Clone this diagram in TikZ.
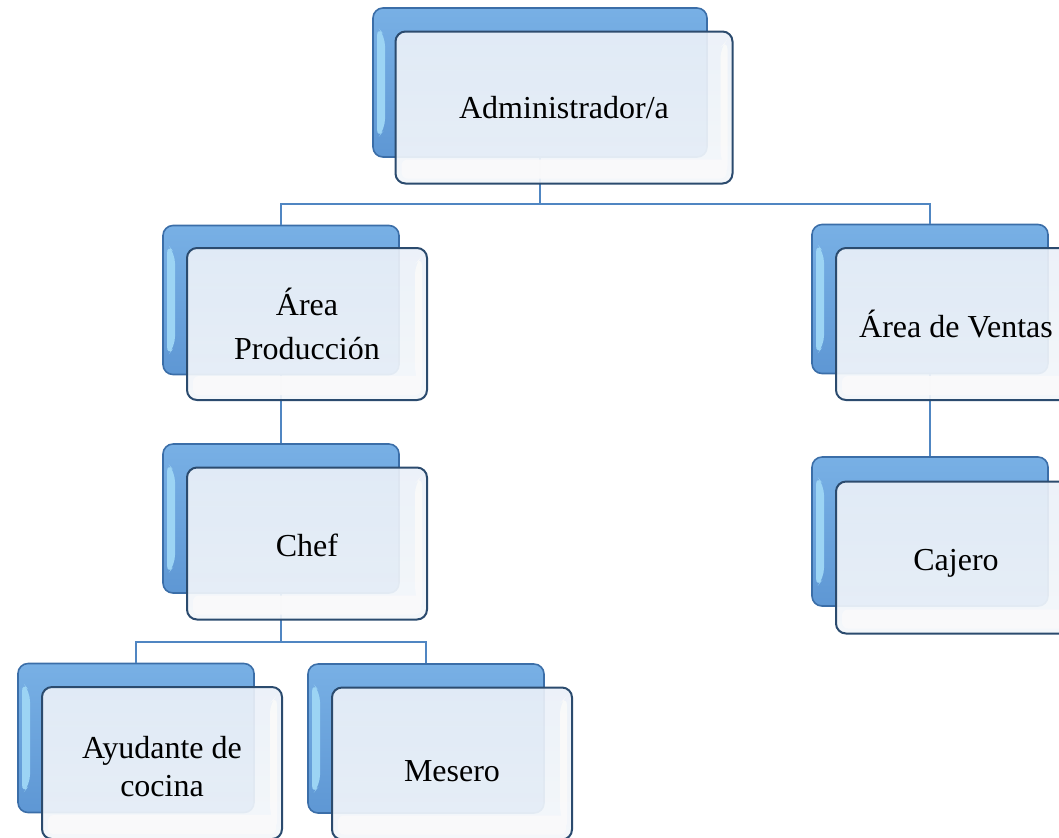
\documentclass[tikz,border=0pt]{standalone}
\usepackage{fontspec}
\setmainfont{Liberation Serif}
\usepackage{pgf,tikz}
\usetikzlibrary{arrows}

\definecolor{azulclaro}{HTML}{78B0E5}
\definecolor{azulmedio}{HTML}{5E97D4}
\definecolor{azulbrillo}{HTML}{9CD4F4}
\definecolor{bordeazul}{HTML}{3B6EA8}
\definecolor{bordeosc}{HTML}{2B4B6E}
\definecolor{frentearriba}{HTML}{EAF0F8}
\definecolor{frenteabajo}{HTML}{F3F6FA}
\definecolor{biselclaro}{HTML}{FAFAFA}
\definecolor{lineaazul}{HTML}{5086C2}

\newcommand{\bajar}[2]{\raisebox{-#1}[\height][\depth]{#2}}

\tikzset{
  fondo/.style={draw=bordeazul, line width=0.8pt, rounded corners=5pt,
    top color=azulclaro, bottom color=azulmedio,
    minimum width=118pt, minimum height=74.5pt,
    path picture={
      \fill[azulbrillo] ([shift={(2pt,-9pt)}]path picture bounding box.north west)
        -- ([shift={(6pt,-14pt)}]path picture bounding box.north west)
        -- ([shift={(6pt,14pt)}]path picture bounding box.south west)
        -- ([shift={(2pt,9pt)}]path picture bounding box.south west) -- cycle;
    }},
  fondoancho/.style={fondo, minimum width=167pt},
  frente/.style={draw=bordeosc, line width=1pt, rounded corners=5pt,
    top color=frentearriba, bottom color=frenteabajo, fill opacity=0.92,
    text opacity=1, minimum width=120pt, minimum height=76pt,
    align=center, font=\fontsize{16}{19}\selectfont,
    path picture={
      \fill[biselclaro, rounded corners=3pt] ([shift={(3pt,2.5pt)}]path picture bounding box.south west)
        rectangle ([shift={(-3pt,12pt)}]path picture bounding box.south east);
      \fill[biselclaro] ([shift={(-2.5pt,-4pt)}]path picture bounding box.north east)
        -- ([shift={(-6pt,-8pt)}]path picture bounding box.north east)
        -- ([shift={(-6pt,12pt)}]path picture bounding box.south east)
        -- ([shift={(-2.5pt,4pt)}]path picture bounding box.south east) -- cycle;
    }},
  frenteancho/.style={frente, minimum width=168.5pt},
  linea/.style={draw=lineaazul, line width=1.2pt}
}

\begin{document}
\begin{tikzpicture}[x=0.5pt,y=-0.5pt]
\clip (0,0) rectangle (1059,837);

% cajas de fondo
\node [fondoancho] (adminB) at (540,82.5) {};
\node [fondo] (prodB) at (281,300) {};
\node [fondo] (chefB) at (281,518.5) {};
\node [fondo] (ayudB) at (136,738) {};
\node [fondo] (meseroB) at (426,738.5) {};
\node [fondo] (ventasB) at (930,299) {};
\node [fondo] (cajeroB) at (930,531.5) {};

% lineas
\coordinate (bus1) at (540,204);
\coordinate (bus2) at (281,642);
\draw [linea] (adminB.south) -- (bus1) -| (prodB.north);
\draw [linea] (bus1) -| (ventasB.north);
\draw [linea] (prodB.south) -- (chefB.north);
\draw [linea] (chefB.south) -- (bus2) -| (ayudB.north);
\draw [linea] (bus2) -| (meseroB.north);
\draw [linea] (ventasB.south) -- (cajeroB.north);

% cajas de frente
\node [frenteancho] (admin) at ([shift={(12pt,-12.5pt)}]adminB.center) {Administrador/a};
\node [frente] (prod) at ([shift={(13pt,-12pt)}]prodB.center) {Área\\[3pt]Producción};
\node [frente] (chef) at ([shift={(13pt,-12.5pt)}]chefB.center) {\bajar{1pt}{Chef}};
\node [frente] (ayud) at ([shift={(13pt,-12.5pt)}]ayudB.center) {\bajar{2pt}{Ayudante de}\\\bajar{2pt}{cocina}};
\node [frente] (mesero) at ([shift={(13pt,-12.5pt)}]meseroB.center) {\bajar{4pt}{Mesero}};
\node [frente] (ventas) at ([shift={(13pt,-12.5pt)}]ventasB.center) {Área de Ventas};
\node [frente] (cajero) at ([shift={(13pt,-13pt)}]cajeroB.center) {\bajar{3pt}{Cajero}};
\end{tikzpicture}
\end{document}
